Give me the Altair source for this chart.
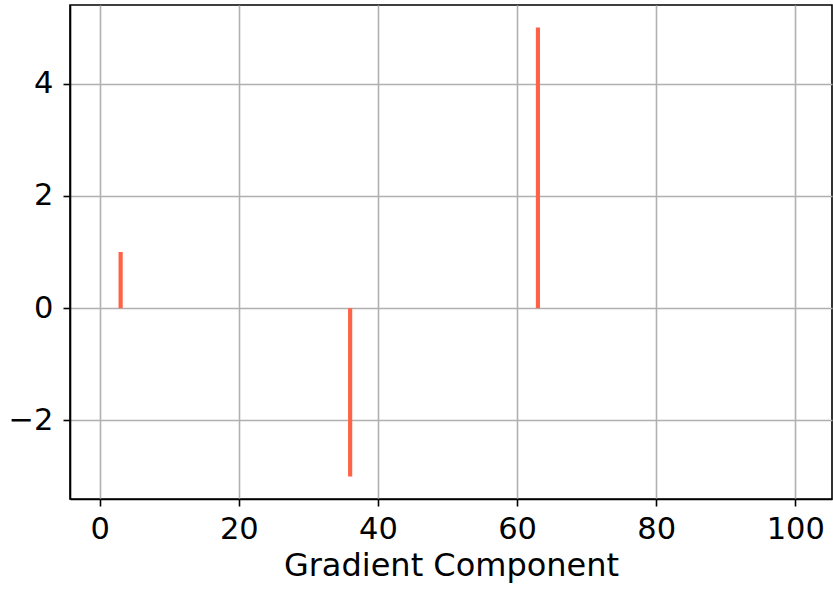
import altair as alt
import pandas as pd

# Gradient components 1..100, almost all zero
components = list(range(1, 101))
values = [0.0] * 100
values[3 - 1] = 1.0
values[36 - 1] = -3.0
values[63 - 1] = 5.0

x_ticks = [0, 20, 40, 60, 80, 100]
y_ticks = [-2, 0, 2, 4]

df = pd.DataFrame({"component": components, "value": values})

FONT = "DejaVu Sans"
FS = 30.5

bars = (
    alt.Chart(df)
    .transform_calculate(x0="datum.component - 0.3", x1="datum.component + 0.3", zero="0")
    .mark_bar(color="#FF6347", strokeWidth=0)
    .encode(
        x=alt.X(
            "x0:Q",
            scale=alt.Scale(domain=[-4.28, 105.28], nice=False, zero=False),
            axis=alt.Axis(values=x_ticks, title="Gradient Component", titlePadding=6),
        ),
        x2="x1:Q",
        y=alt.Y(
            "value:Q",
            scale=alt.Scale(domain=[-3.4, 5.4], nice=False, zero=False),
            axis=alt.Axis(
                values=y_ticks,
                title=None,
                labelExpr="replace(datum.label, '-', '\u2212')",
                labelPadding=10,
            ),
        ),
        y2="zero:Q",
    )
)

chart = (
    bars.properties(
        width=762,
        height=494,
        autosize=alt.AutoSizeParams(type="none"),
        padding={"left": 70, "top": 5, "right": 1, "bottom": 92},
        background="white",
    )
    .configure_view(stroke="black", strokeWidth=1.6)
    .configure_axis(
        labelFontSize=FS,
        labelFont=FONT,
        labelColor="black",
        labelPadding=8,
        titleFontSize=32,
        titleFont=FONT,
        titleFontWeight="normal",
        titleColor="black",
        tickSize=7,
        tickWidth=1.6,
        tickColor="black",
        domainColor="black",
        domainWidth=1.6,
        grid=True,
        gridColor="#b0b0b0",
        gridWidth=1.6,
        labelFlush=False,
        zindex=1,
    )
)

chart.save("out.html", embed_options={"renderer": "svg", "actions": False})
